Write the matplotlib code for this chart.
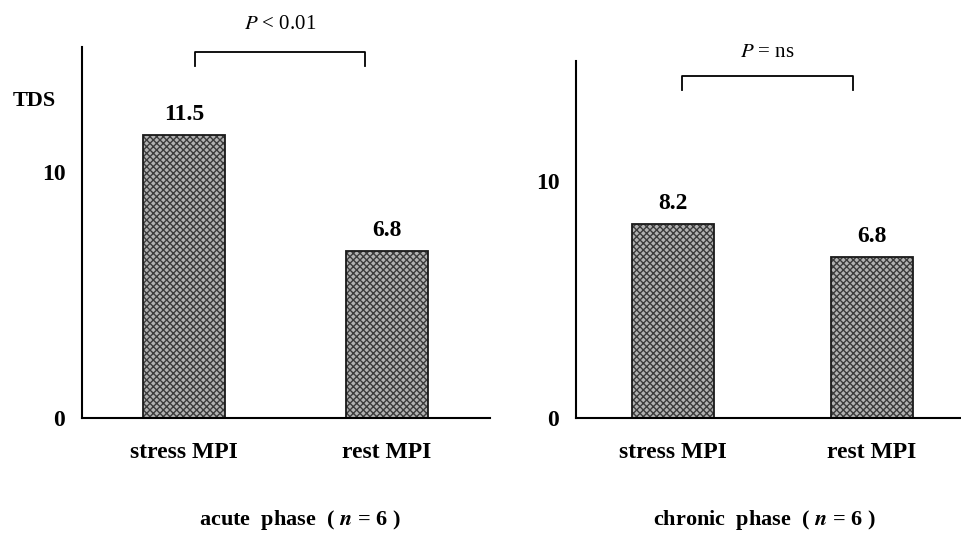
import matplotlib
matplotlib.use("Agg")
import matplotlib.pyplot as plt

plt.rcParams["font.family"] = ["Liberation Serif", "DejaVu Serif"]
plt.rcParams["mathtext.fontset"] = "stix"

CATEGORIES = ["stress MPI", "rest MPI"]
ACUTE_TDS = [11.5, 6.8]
CHRONIC_TDS = [8.2, 6.8]
Y_TICKS = [0, 10]
ACUTE_P = r"$P$ < 0.01"
CHRONIC_P = r"$P$ = ns"
ACUTE_TITLE = r"acute  phase  ( $\mathbfit{n}$ = 6 )"
CHRONIC_TITLE = r"chronic  phase  ( $\mathbfit{n}$ = 6 )"

W, H = 961, 536


def _axes_px(fig, left, right, top, bottom):
    return fig.add_axes([left / W, 1 - bottom / H, (right - left) / W, (bottom - top) / H])


def _panel(ax, values, xlim, width, p_text, bracket, title, title_x):
    ax.set_xlim(*xlim)
    ax.set_ylim(0, 15.08)
    x = range(len(values))
    ax.bar(x, values, width=width, color="#b2b2b2", edgecolor="#3c3c3c",
           hatch="xxxxx", linewidth=0)
    ax.bar(x, values, width=width, fill=False, edgecolor="#1a1a1a", linewidth=1.3)
    for xi, v in zip(x, values):
        ax.annotate(f"{v}", (xi, v), xytext=(0, 7), textcoords="offset points",
                    ha="center", va="bottom", fontsize=17, fontweight="bold")

    for side in ("top", "right"):
        ax.spines[side].set_visible(False)
    for side in ("left", "bottom"):
        ax.spines[side].set_linewidth(1.5)
    ax.set_yticks(Y_TICKS)
    ax.set_yticklabels([str(t) for t in Y_TICKS], fontsize=17, fontweight="bold")
    ax.tick_params(axis="y", length=0, pad=12)
    ax.set_xticks(list(x))
    ax.set_xticklabels(CATEGORIES, fontsize=17, fontweight="bold")
    ax.tick_params(axis="x", length=0, pad=17)

    x0, x1, y_lo, y_hi, y_txt = bracket
    ax.plot([x0, x0, x1, x1], [y_lo, y_hi, y_hi, y_lo], color="black",
            linewidth=1.3, clip_on=False)
    ax.text((x0 + x1) / 2, y_txt, p_text, ha="center", va="center", fontsize=15,
            clip_on=False)
    fig.text(title_x / W, 1 - 520 / H, title, ha="center", va="center",
             fontsize=16, fontweight="bold")


fig = plt.figure(figsize=(W / 100, H / 100), dpi=100)

ax1 = _axes_px(fig, 82, 490, 47, 418)
_panel(ax1, ACUTE_TDS, (-0.502, 1.507), 0.40, ACUTE_P,
       (0.054, 0.89, 14.3, 14.88, 15.98), ACUTE_TITLE, 300)
fig.text(34 / W, 1 - 101 / H, "TDS", ha="center", va="center",
         fontsize=16, fontweight="bold")

ax2 = _axes_px(fig, 576, 961, 61, 418)
_panel(ax2, CHRONIC_TDS, (-0.487, 1.447), 0.41, CHRONIC_P,
       (0.045, 0.905, 13.84, 14.43, 15.44), CHRONIC_TITLE, 764)

fig.savefig("out.png", dpi=100)
